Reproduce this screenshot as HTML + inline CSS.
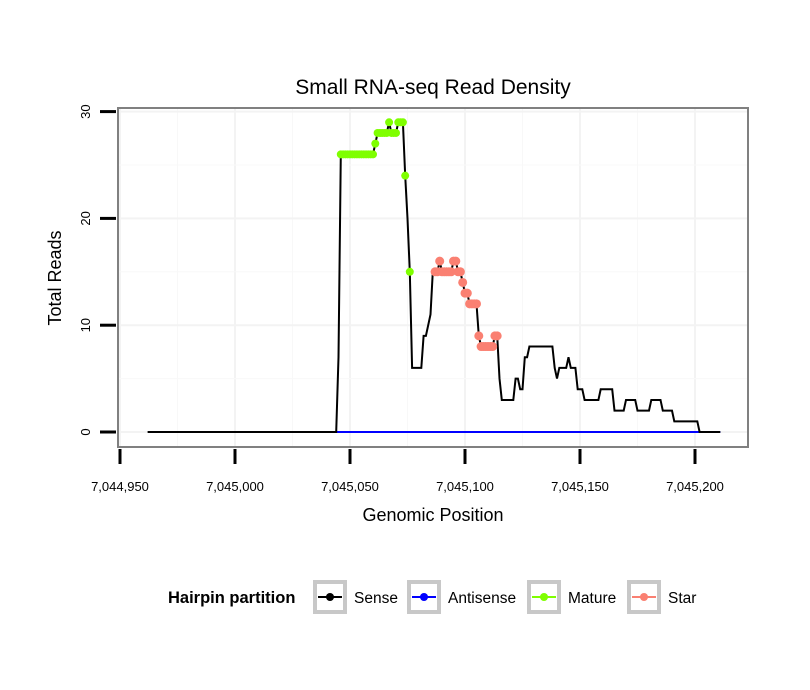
<!DOCTYPE html>
<html><head><meta charset="utf-8"><style>
body{margin:0;background:#fff;}
svg{display:block;font-family:"Liberation Sans",sans-serif;}
</style></head><body>
<svg id="chart" width="810" height="690" viewBox="0 0 810 690" xmlns="http://www.w3.org/2000/svg">
<rect width="810" height="690" fill="#fff"/>
<text x="433" y="94" font-size="21" text-anchor="middle">Small RNA-seq Read Density</text>
<g id="grid"></g>
<g id="marks"></g>
<rect x="118" y="108" width="630" height="339" fill="none" stroke="#808080" stroke-width="2"/>
<g id="axes"></g>
<text x="433" y="521" font-size="18" text-anchor="middle">Genomic Position</text>
<text transform="translate(61,278) rotate(-90)" font-size="18" text-anchor="middle">Total Reads</text>
<g>
<text x="168" y="603" font-size="16.5" font-weight="bold">Hairpin partition</text>
<g id="legend-keys"></g>
</g>
</svg>
<script>
const xTicks=[7044950,7045000,7045050,7045100,7045150,7045200];
const xTickLabels=["7,044,950","7,045,000","7,045,050","7,045,100","7,045,150","7,045,200"];
const yTicks=[0,10,20,30];
const yTickLabels=["0","10","20","30"];
const startPos=7044962;
const endPos=7045211;
// sense values from 7045040 to 7045211
const senseTail=[0,0,0,0,0,7,26,26,26,26,26,26,26,26,26,26,26,26,26,26,26,27,28,28,28,28,28,29,28,28,28,29,29,29,24,20,15,6,6,6,6,6,9,9,10,11,15,15,15,16,15,15,15,15,15,16,16,15,15,14,13,13,12,12,12,12,9,8,8,8,8,8,8,9,9,5,3,3,3,3,3,3,5,5,4,4,7,7,8,8,8,8,8,8,8,8,8,8,8,6,5,6,6,6,6,7,6,6,6,4,4,4,3,3,3,3,3,3,3,4,4,4,4,4,4,2,2,2,2,2,3,3,3,3,3,2,2,2,2,2,2,3,3,3,3,3,2,2,2,2,2,1,1,1,1,1,1,1,1,1,1,1,0,0,0,0,0,0,0,0,0,0];
const senseTailStart=7045040;
const antisenseStart=7045043;
const matureRange=[7045046,7045074];
const matureExtra=[7045076];
const starRange=[7045087,7045114];

const NS="http://www.w3.org/2000/svg";
const X0=7044950, PX0=120, PXU=2.3;
const xs=v=>PX0+(v-X0)*PXU;
const ys=v=>432-v*10.68;
function mk(tag,attrs,parent){const e=document.createElementNS(NS,tag);for(const k in attrs)e.setAttribute(k,attrs[k]);parent.appendChild(e);return e;}
const grid=document.getElementById('grid'),marks=document.getElementById('marks'),axes=document.getElementById('axes');
const sensePos=[],senseVal=[];
for(let p=startPos;p<=endPos;p++){sensePos.push(p);const i=p-senseTailStart;senseVal.push(i>=0&&i<senseTail.length?senseTail[i]:0);}
const valAt=p=>senseVal[p-startPos];
for(let i=0;i<xTicks.length;i++){
 const l=mk('line',{x1:xs(xTicks[i]),x2:xs(xTicks[i]),y1:109,y2:446,stroke:'#f3f3f3','stroke-width':2},grid);
 
 if(i<xTicks.length-1){const m=(xTicks[i]+xTicks[i+1])/2;const g=mk('line',{x1:xs(m),x2:xs(m),y1:109,y2:446,stroke:'#f8f8f8','stroke-width':1},grid);}
}
for(let i=0;i<yTicks.length;i++){
 const l=mk('line',{x1:119,x2:747,y1:ys(yTicks[i]),y2:ys(yTicks[i]),stroke:'#f3f3f3','stroke-width':2},grid);
 
 if(i<yTicks.length-1){const m=(yTicks[i]+yTicks[i+1])/2;const g=mk('line',{x1:119,x2:747,y1:ys(m),y2:ys(m),stroke:'#f8f8f8','stroke-width':1},grid);}
}
const anti=mk('line',{x1:xs(antisenseStart),x2:xs(endPos),y1:ys(0),y2:ys(0),stroke:'#0000ff','stroke-width':2},marks);

const sl=mk('polyline',{points:sensePos.map((p,i)=>xs(p)+','+ys(senseVal[i])).join(' '),fill:'none',stroke:'#000','stroke-width':2},marks);

const mat=[];for(let p=matureRange[0];p<=matureRange[1];p++)mat.push(p);mat.push(...matureExtra);
mat.forEach(p=>{const c=mk('circle',{cx:xs(p),cy:ys(valAt(p)),r:4,fill:'#7fff00'},marks);});
for(let p=starRange[0];p<=starRange[1];p++){const c=mk('circle',{cx:xs(p),cy:ys(valAt(p)),r:4.5,fill:'#fa8072'},marks);}
xTicks.forEach((t,i)=>{
 const l=mk('line',{x1:xs(t),x2:xs(t),y1:449,y2:464,stroke:'#000','stroke-width':3},axes);
 const tx=mk('text',{x:xs(t),y:491,'font-size':13,'text-anchor':'middle'},axes);tx.textContent=xTickLabels[i];
});
yTicks.forEach((t,i)=>{
 const l=mk('line',{x1:100,x2:116,y1:ys(t),y2:ys(t),stroke:'#000','stroke-width':3},axes);
 const tx=mk('text',{transform:`translate(90,${ys(t)}) rotate(-90)`,'font-size':13,'text-anchor':'middle'},axes);tx.textContent=yTickLabels[i];
});
const lk=document.getElementById('legend-keys');
const legendNames=["Sense","Antisense","Mature","Star"];
const legendColors=["#000","#0000ff","#7fff00","#fa8072"];
const legendBoxX=[313,407,527,627];
legendNames.forEach((n,i)=>{
 const g=mk('g',{},lk);
 mk('rect',{x:legendBoxX[i]+2,y:582,width:30,height:30,fill:'#fff',stroke:'#c8c8c8','stroke-width':4},g);
 mk('line',{x1:legendBoxX[i]+5,x2:legendBoxX[i]+29,y1:597,y2:597,stroke:legendColors[i],'stroke-width':2},g);
 mk('circle',{cx:legendBoxX[i]+17,cy:597,r:4,fill:legendColors[i]},g);
 const t=mk('text',{x:legendBoxX[i]+41,y:603,'font-size':15.5},g);t.textContent=n;
});
</script>
</body></html>
